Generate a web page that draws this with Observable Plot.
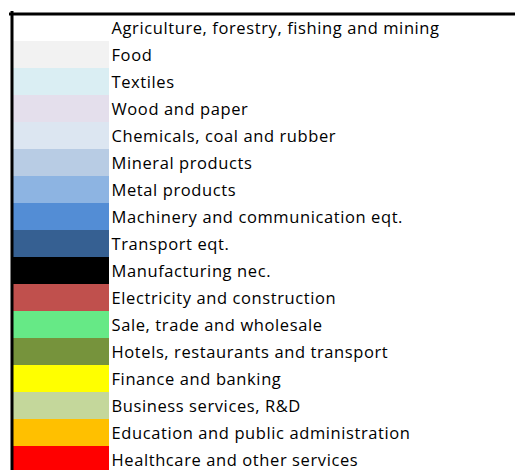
<!DOCTYPE html>
<html>
<head>
<meta charset="utf-8">
<script src="https://cdn.jsdelivr.net/npm/d3@7"></script>
<script src="https://cdn.jsdelivr.net/npm/@observablehq/plot@0.6"></script>
<style>
  html, body { margin: 0; padding: 0; background: #fff; }
  #chart svg { display: block; }
</style>
</head>
<body>
<div id="chart"></div>
<script>
const categories = [
  "Agriculture, forestry, fishing and mining",
  "Food",
  "Textiles",
  "Wood and paper",
  "Chemicals, coal and rubber",
  "Mineral products",
  "Metal products",
  "Machinery and communication eqt.",
  "Transport eqt.",
  "Manufacturing nec.",
  "Electricity and construction",
  "Sale, trade and wholesale",
  "Hotels, restaurants and transport",
  "Finance and banking",
  "Business services, R&D",
  "Education and public administration",
  "Healthcare and other services"
];
const colors = [
  "#FFFFFF", "#F2F2F2", "#DAEEF3", "#E4DFEC", "#DCE6F1", "#B8CCE4",
  "#8DB4E2", "#538DD5", "#366092", "#000000", "#C0504D", "#66E986",
  "#76933C", "#FFFF00", "#C4D79B", "#FFC000", "#FF0000"
];

const data = categories.map((c, i) => ({category: c, color: colors[i], col: "swatch"}));

const chart = Plot.plot({
  width: 515,
  height: 470,
  marginLeft: 11.5,
  marginTop: 13.5,
  marginRight: 0,
  marginBottom: 0,
  style: {fontFamily: "'Open Sans', sans-serif", fontSize: "16px", letterSpacing: "0.6px", background: "#fff"},
  x: {type: "band", domain: ["swatch"], range: [13, 109], padding: 0, axis: null},
  y: {type: "band", domain: categories, range: [14, 473], padding: 0, axis: null},
  color: {type: "identity"},
  marks: [
    Plot.cell(data, {x: "col", y: "category", fill: "color"}),
    Plot.text(data, {x: "col", y: "category", text: "category", textAnchor: "start", dx: 50, dy: 0.5, fill: "#000", fontSize: 16.5}),
    Plot.frame({anchor: "top", stroke: "#000", strokeWidth: 3, insetLeft: -1.5}),
    Plot.frame({anchor: "left", stroke: "#000", strokeWidth: 3, insetTop: -1.5})
  ]
});
document.getElementById("chart").appendChild(chart);
</script>
</body>
</html>
